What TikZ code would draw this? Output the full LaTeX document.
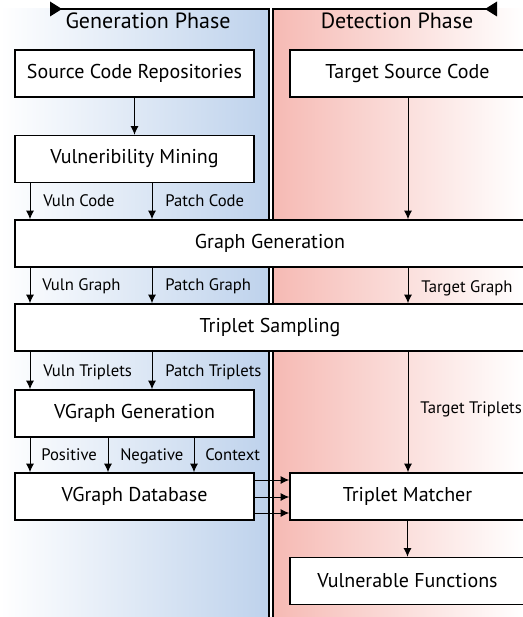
\documentclass[tikz,border=0pt]{standalone}
\usepackage{fontspec}
\setmainfont{PT Sans}
\usetikzlibrary{arrows.meta}

\definecolor{genblue}{RGB}{190,210,236}
\definecolor{detred}{RGB}{246,186,180}

\tikzset{
  stage/.style={draw, line width=1.1pt, fill=white, inner sep=0pt,
    minimum height=35.25pt, font=\fontsize{15}{17}\selectfont},
  halfbox/.style={stage, minimum width=179.25pt},
  widebox/.style={stage, minimum width=382.5pt},
  flow/.style={-{Latex[length=6.5pt,width=6pt]}, line width=0.75pt},
  lbl/.style={anchor=base west, inner sep=0pt, font=\fontsize{12.5}{14}\selectfont},
  phase/.style={inner sep=0pt, font=\fontsize{16.5}{18}\selectfont},
  border/.style={line width=1pt}
}

\begin{document}
\begin{tikzpicture}[x=0.75pt,y=0.75pt,yscale=-1,xscale=1]
    \useasboundingbox (0,0) rectangle (523,617);

    % panels
    \shade[left color=white, right color=genblue] (0,9) rectangle (269,617);
    \shade[left color=detred, right color=white] (273,9) rectangle (523,617);
    \draw[border, {Triangle[reversed,length=9pt,width=11pt]}-] (50,9) -- (269,9) -- (269,617);
    \draw[border, -{Triangle[reversed,length=9pt,width=11pt]}] (273,617) -- (273,9) -- (497,9);
    \node[phase] (genph) at (148,21) {Generation Phase};
    \node[phase] (detph) at (397,21) {Detection Phase};

    % columns
    \coordinate (c1) at (30,0);
    \coordinate (c2) at (152,0);
    \coordinate (c3) at (408,0);
    \coordinate (c4) at (108,0);
    \coordinate (c5) at (194,0);
    \coordinate (r1) at (0,480);
    \coordinate (r2) at (0,497);
    \coordinate (r3) at (0,513);

    % boxes
    \node[halfbox] (src) at (134.5,73.5) {Source Code Repositories};
    \node[stage, minimum width=176.25pt] (tsc) at (407.5,73.5) {Target Source Code};
    \node[halfbox] (vm) at (134.5,159) {Vulneribility Mining};
    \node[widebox] (gg) at (270,243.5) {Graph Generation};
    \node[widebox] (ts) at (270,327.5) {Triplet Sampling};
    \node[halfbox] (vgg) at (134.5,413.5) {VGraph Generation};
    \node[halfbox] (vdb) at (134.5,496.5) {VGraph Database};
    \node[stage, minimum width=176.25pt] (tm) at (407.5,496.5) {Triplet Matcher};
    \node[stage, minimum width=176.25pt] (vf) at (407.5,581) {Vulnerable Functions};

    % connectors
    \draw[flow] (src) -- (vm);
    \draw[flow] (vm.south -| c1) -- (gg.north -| c1);
    \draw[flow] (vm.south -| c2) -- (gg.north -| c2);
    \draw[flow] (tsc.south -| c3) -- (gg.north -| c3);
    \draw[flow] (gg.south -| c1) -- (ts.north -| c1);
    \draw[flow] (gg.south -| c2) -- (ts.north -| c2);
    \draw[flow] (gg.south -| c3) -- (ts.north -| c3);
    \draw[flow] (ts.south -| c1) -- (vgg.north -| c1);
    \draw[flow] (ts.south -| c2) -- (vgg.north -| c2);
    \draw[flow] (ts.south -| c3) -- (tm.north -| c3);
    \draw[flow] (vgg.south -| c1) -- (vdb.north -| c1);
    \draw[flow] (vgg.south -| c4) -- (vdb.north -| c4);
    \draw[flow] (vgg.south -| c5) -- (vdb.north -| c5);
    \draw[flow] (vdb.east |- r1) -- (tm.west |- r1);
    \draw[flow] (vdb.east |- r2) -- (tm.west |- r2);
    \draw[flow] (vdb.east |- r3) -- (tm.west |- r3);
    \draw[flow] (tm) -- (vf);

    % labels
    \node[lbl] (vcode) at (43,206) {Vuln Code};
    \node[lbl] (pcode) at (165,206) {Patch Code};
    \node[lbl] (vgraph) at (42,290) {Vuln Graph};
    \node[lbl] (pgraph) at (165,290) {Patch Graph};
    \node[lbl] (tgraph) at (421,292) {Target Graph};
    \node[lbl] (vtrip) at (43,376) {Vuln Triplets};
    \node[lbl] (ptrip) at (165,376) {Patch Triplets};
    \node[lbl] (ttrip) at (420,413) {Target Triplets};
    \node[lbl] (pos) at (41,460) {Positive};
    \node[lbl] (neg) at (120,460) {Negative};
    \node[lbl] (ctx) at (205,460) {Context};
\end{tikzpicture}
\end{document}
